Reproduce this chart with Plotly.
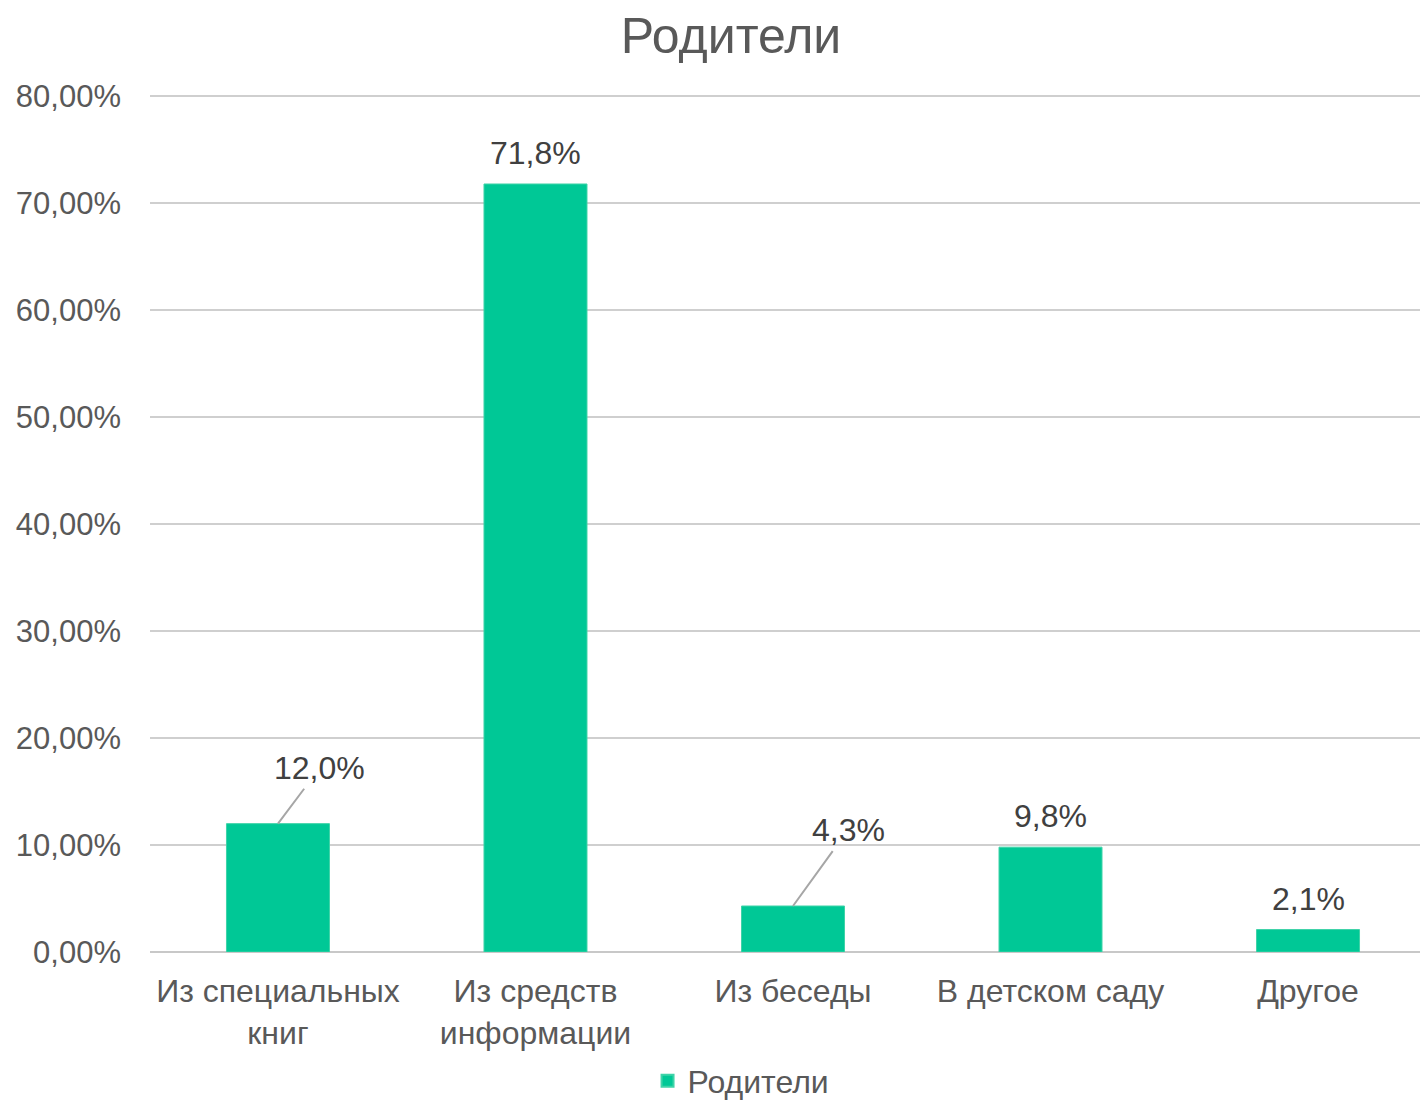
import plotly.graph_objects as go

categories = ["Из специальных<br>книг", "Из средств<br>информации", "Из беседы", "В детском саду", "Другое"]
values = [12.0, 71.8, 4.3, 9.8, 2.1]
labels = ["12,0%", "71,8%", "4,3%", "9,8%", "2,1%"]
series_name = "Родители"
tick_vals = [0, 10, 20, 30, 40, 50, 60, 70, 80]
tick_text = ["0,00%", "10,00%", "20,00%", "30,00%", "40,00%", "50,00%", "60,00%", "70,00%", "80,00%"]

FONT = "Liberation Sans, Arial, sans-serif"
BAR = "#00C896"

fig = go.Figure()
fig.add_trace(go.Bar(
    x=list(range(len(categories))), y=values, name=series_name,
    marker=dict(color=BAR, line=dict(color="#3fd3a8", width=1)),
    width=0.4, hoverinfo="skip",
))

# leader-line offsets (pixels) for labels placed away from bars
leader = {0: (42, -56), 2: (55, -76)}
for i, (v, t) in enumerate(zip(values, labels)):
    if i in leader:
        ax, ay = leader[i]
        fig.add_annotation(x=i, y=v, text=t, showarrow=True, arrowhead=0,
                           arrowwidth=2, arrowcolor="#a6a6a6", ax=ax, ay=ay,
                           standoff=0, startstandoff=2,
                           font=dict(family=FONT, size=32, color="#404040"))
    else:
        fig.add_annotation(x=i, y=v, text=t, showarrow=False, yanchor="bottom",
                           yshift=11, font=dict(family=FONT, size=32, color="#404040"))

fig.update_layout(
    width=1428, height=1094,
    margin=dict(l=142, r=0, t=84, b=150, autoexpand=False),
    paper_bgcolor="white", plot_bgcolor="white",
    title=dict(text="Родители", x=723 / 1428, xref="container", xanchor="center",
               y=1 - 27 / 1094, yref="container", yanchor="middle",
               font=dict(family=FONT, size=50, color="#595959")),
    showlegend=True,
    legend=dict(orientation="h", x=0.4596, xanchor="center",
                yref="container", y=1 - 1073 / 1094, yanchor="middle",
                font=dict(family=FONT, size=32, color="#595959"), itemsizing="constant"),
    bargap=0.6,
)
fig.update_xaxes(
    tickmode="array", tickvals=list(range(len(categories))), ticktext=categories,
    range=[-0.497, 4.497], showgrid=False, showline=False, zeroline=False,
    ticks="", ticklabelstandoff=17, automargin=False,
    tickfont=dict(family=FONT, size=32, color="#595959"),
)
fig.update_yaxes(
    range=[0, 80.4], tickmode="array", tickvals=tick_vals, ticktext=tick_text,
    showgrid=True, gridcolor="#cfcfcf", gridwidth=2,
    zeroline=True, zerolinecolor="#c8c8c8", zerolinewidth=2,
    showline=False, ticks="", ticklabelstandoff=28, automargin=False,
    tickfont=dict(family=FONT, size=31, color="#595959"),
)

fig.write_html("out.html")
